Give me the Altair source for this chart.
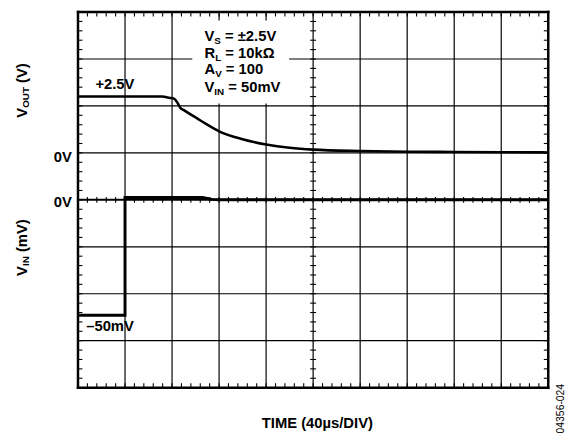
import altair as alt
import pandas as pd

# ---- data (x in microseconds, 40 us/div; y in screen divisions 0..8) ----
VOUT_T = [0, 72, 76, 79, 82, 85, 87, 90, 101, 110, 120, 140, 160, 180, 200, 240, 280, 320, 360, 400]
VOUT_Y = [6.20, 6.20, 6.18, 6.17, 6.15, 6.05, 5.96, 5.91, 5.74, 5.60, 5.46, 5.29, 5.18, 5.11, 5.07, 5.04, 5.025, 5.02, 5.015, 5.01]
VIN_T = [0, 40, 40, 106, 114, 120, 400]
VIN_Y = [1.54, 1.54, 4.05, 4.05, 4.01, 4.00, 4.00]

GRID_X_INNER = [40, 80, 120, 160, 200, 240, 280, 320, 360]
GRID_Y_INNER = [1, 2, 3, 5, 6, 7]
BORDER_X = [0, 400]
BORDER_Y = [0, 8]
CENTER_X = 200
CENTER_Y = 4
MINOR_X = [8 * i for i in range(51)]
MINOR_Y = [round(0.2 * i, 2) for i in range(41)]

W, H = 477, 381
XMAX, YMAX = 400, 8
FONT = "Liberation Sans"
SP = 4.17  # width of a space at 15px

xs = alt.Scale(domain=[0, XMAX], nice=False, zero=False)
ys = alt.Scale(domain=[0, YMAX], nice=False, zero=False)

PX_X = XMAX / W  # data units per pixel
PX_Y = YMAX / H


def X(f="x"):
    return alt.X(f"{f}:Q", scale=xs, axis=None)


def Y(f="y"):
    return alt.Y(f"{f}:Q", scale=ys, axis=None)


layers = []

# grid
layers.append(alt.Chart(pd.DataFrame({"x": GRID_X_INNER})).mark_rule(color="black", strokeWidth=1.2).encode(x=X()))
layers.append(alt.Chart(pd.DataFrame({"y": GRID_Y_INNER})).mark_rule(color="black", strokeWidth=1.2).encode(y=Y()))
layers.append(alt.Chart(pd.DataFrame({"y": [CENTER_Y]})).mark_rule(color="black", strokeWidth=2).encode(y=Y()))
layers.append(alt.Chart(pd.DataFrame({"x": BORDER_X})).mark_rule(color="black", strokeWidth=2.5, strokeCap="square").encode(x=X()))
layers.append(alt.Chart(pd.DataFrame({"y": BORDER_Y})).mark_rule(color="black", strokeWidth=2.5, strokeCap="square").encode(y=Y()))


# minor ticks drawn as short segments (lengths given in pixels)
def hticks(xc, yv, p1, p2):
    rows = []
    for k, yy in enumerate(yv):
        rows.append({"g": k, "x": xc + p1 * PX_X, "y": yy, "o": 0})
        rows.append({"g": k, "x": xc + p2 * PX_X, "y": yy, "o": 1})
    df = pd.DataFrame(rows)
    return alt.Chart(df).mark_line(color="black", strokeWidth=1.1).encode(
        x=X(), y=Y(), detail="g:N", order="o:Q"
    )


def vticks(xv, yc, p1, p2):
    rows = []
    for k, xx in enumerate(xv):
        rows.append({"g": k, "x": xx, "y": yc + p1 * PX_Y, "o": 0})
        rows.append({"g": k, "x": xx, "y": yc + p2 * PX_Y, "o": 1})
    df = pd.DataFrame(rows)
    return alt.Chart(df).mark_line(color="black", strokeWidth=1.1).encode(
        x=X(), y=Y(), detail="g:N", order="o:Q"
    )


layers.append(hticks(0, MINOR_Y, 0, 4.5))
layers.append(hticks(XMAX, MINOR_Y, 0, -4.5))
layers.append(hticks(CENTER_X, MINOR_Y, -3, 3))
layers.append(vticks(MINOR_X, YMAX, 0, -4.5))
layers.append(vticks(MINOR_X, 0, 0, 4.5))
layers.append(vticks(MINOR_X, CENTER_Y, -3, 3))

# white box behind conditions
layers.append(
    alt.Chart(pd.DataFrame({"x": [97.2], "x2": [179.6], "y": [6.05], "y2": [7.82]}))
    .mark_rect(color="white")
    .encode(x=X(), x2="x2:Q", y=Y(), y2="y2:Q")
)

# traces
vout = pd.DataFrame({"x": VOUT_T, "y": VOUT_Y, "i": range(len(VOUT_T))})
vin = pd.DataFrame({"x": VIN_T, "y": VIN_Y, "i": range(len(VIN_T))})
layers.append(alt.Chart(vout).mark_line(color="black", strokeWidth=2.6, interpolate="monotone").encode(x=X(), y=Y(), order="i:Q"))
layers.append(alt.Chart(vin).mark_line(color="black", strokeWidth=3, strokeJoin="miter").encode(x=X(), y=Y(), order="i:Q"))


# text helper
def txt(x, y, t, size=15, dx=0, dy=0, angle=None, align="left", weight="bold", baseline="alphabetic"):
    kw = dict(font=FONT, fontSize=size, fontWeight=weight, align=align, baseline=baseline, color="black")
    if dx:
        kw["dx"] = dx
    if dy:
        kw["dy"] = dy
    if angle is not None:
        kw["angle"] = angle
    return alt.Chart(pd.DataFrame({"x": [x], "y": [y], "t": [t]})).mark_text(**kw).encode(x=X(), y=Y(), text="t:N")


# conditions block
AX = 107.6
rows = [
    (7.38, "V", "S", "= \u00b12.5V", 10.0, 6.67),
    (7.03, "R", "L", "= 10k\u03a9", 10.83, 6.11),
    (6.67, "A", "V", "= 100", 10.83, 6.67),
    (6.29, "V", "IN", "= 50mV", 10.0, 10.0),
]
for yy, main, sub, rest, w1, w2 in rows:
    layers.append(txt(AX, yy, main))
    layers.append(txt(AX, yy, sub, size=10, dx=w1, dy=3))
    layers.append(txt(AX, yy, rest, dx=w1 + w2 + SP))

# level labels
layers.append(txt(14.8, 6.36, "+2.5V"))
layers.append(txt(-5.2, 4.80, "0V", align="right"))
layers.append(txt(-5.2, 3.855, "0V", align="right"))
layers.append(txt(7, 1.21, "\u201350mV"))

# rotated axis labels
layers.append(txt(-43.8, 5.75, "V", angle=270))
layers.append(txt(-43.8, 5.75, "OUT", size=10, dx=10, dy=3, angle=270))
layers.append(txt(-43.8, 5.75, "(V)", dx=31.1 + SP, angle=270))
layers.append(txt(-43.8, 2.38, "V", angle=270))
layers.append(txt(-43.8, 2.38, "IN", size=10, dx=10, dy=3, angle=270))
layers.append(txt(-43.8, 2.38, "(mV)", dx=20 + SP, angle=270))

# x title and figure code
layers.append(txt(203.6, -0.85, "TIME (40\u00b5s/DIV)", align="center"))
layers.append(txt(413.6, -0.974, "04356-024", size=10.5, weight="normal", angle=270))

chart = (
    alt.layer(*layers)
    .properties(
        width=W,
        height=H,
        autosize=alt.AutoSizeParams(type="none"),
        padding={"left": 71, "top": 1, "right": 18, "bottom": 50},
        background="white",
    )
    .configure_view(stroke=None)
)

chart.save("out.html", embed_options={"renderer": "svg", "actions": False})
